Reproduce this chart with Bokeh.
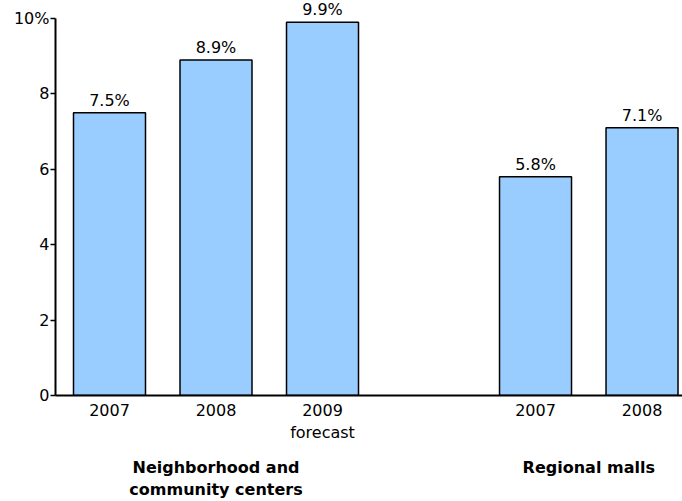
from bokeh.plotting import figure
from bokeh.models import ColumnDataSource, LabelSet, FixedTicker, Range1d, LinearAxis
from bokeh.core.properties import value
from bokeh.embed import file_html
from bokeh.resources import INLINE

group_names = [["Neighborhood and", "community centers"], ["Regional malls"]]
years = [["2007", "2008", "2009"], ["2007", "2008"]]
values = [[7.5, 8.9, 9.9], [5.8, 7.1]]
notes = [["", "", "forecast"], ["", ""]]
y_ticks = [0, 2, 4, 6, 8, 10]
y_tick_labels = ["0", "2", "4", "6", "8", "10%"]

FONT = "DejaVu Sans"
FS = "16px"

# positions: bars within a group are consecutive, one empty slot between groups
xs, vs, labs, xlabels, group_centers = [], [], [], [], []
offset = 0
for g in range(len(values)):
    pos = [offset + j for j in range(len(values[g]))]
    xs += pos
    vs += values[g]
    labs += [f"{v}%" for v in values[g]]
    xlabels += [y if n == "" else f"{y}\n{n}" for y, n in zip(years[g], notes[g])]
    group_centers.append(sum(pos) / len(pos))
    offset += len(values[g]) + 1

src = ColumnDataSource(dict(x=xs, top=vs, lab=labs))

p = figure(output_backend="svg", toolbar_location=None,
           frame_width=627, frame_height=395,
           min_border_left=55, min_border_right=0, min_border_top=0, min_border_bottom=106,
           x_range=Range1d(-0.507, 5.38), y_range=Range1d(0, 10.477))
p.outline_line_color = None
p.grid.grid_line_color = None
p.background_fill_color = "white"
p.border_fill_color = "white"

p.vbar(x="x", top="top", width=0.676, bottom=0, source=src,
       fill_color="#99CCFF", line_color="black", line_width=1.5)

# y axis
ya = p.yaxis[0]
ya.ticker = FixedTicker(ticks=y_ticks)
ya.bounds = (0, 10)
ya.major_label_overrides = {t: l for t, l in zip(y_ticks, y_tick_labels)}
ya.minor_tick_line_color = None
ya.major_tick_in = 0
ya.major_tick_out = 5
ya.major_tick_line_width = 1.5
ya.axis_line_width = 2
ya.major_label_text_font = FONT
ya.major_label_text_font_size = FS
ya.major_label_text_color = "black"
ya.major_label_standoff = 1

# x axis (years)
xa = p.xaxis[0]
xa.ticker = FixedTicker(ticks=xs)
xa.major_label_overrides = {x: l for x, l in zip(xs, xlabels)}
xa.minor_tick_line_color = None
xa.major_tick_line_color = None
xa.major_tick_in = 0
xa.major_tick_out = 0
xa.axis_line_width = 2
xa.major_label_text_font = FONT
xa.major_label_text_font_size = FS
xa.major_label_text_color = "black"
xa.major_label_standoff = 5

# group axis
ga = LinearAxis(ticker=FixedTicker(ticks=group_centers),
                major_label_overrides={c: "\n".join(n) for c, n in zip(group_centers, group_names)})
ga.axis_line_color = None
ga.major_tick_line_color = None
ga.minor_tick_line_color = None
ga.major_tick_in = 0
ga.major_tick_out = 0
ga.major_label_text_font = FONT
ga.major_label_text_font_size = FS
ga.major_label_text_font_style = "bold"
ga.major_label_text_color = "black"
ga.major_label_standoff = 12
p.add_layout(ga, "below")

p.add_layout(LabelSet(x="x", y="top", text="lab", source=src, y_offset=7,
                      text_align="center", text_baseline="alphabetic",
                      text_font=value(FONT), text_font_size=value(FS), text_color="black"))

open("out.html", "w").write(file_html(p, INLINE))
